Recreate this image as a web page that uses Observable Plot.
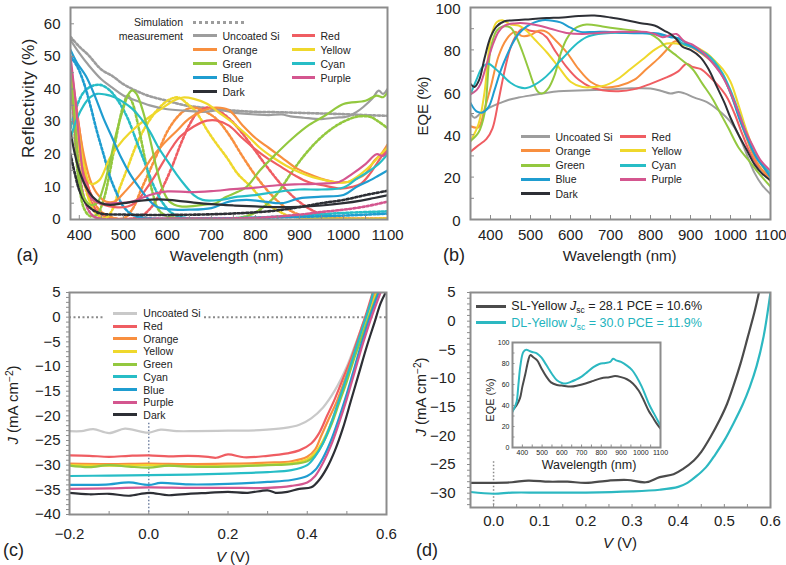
<!DOCTYPE html>
<html><head><meta charset="utf-8">
<script src="https://cdn.jsdelivr.net/npm/d3@7"></script>
<script src="https://cdn.jsdelivr.net/npm/@observablehq/plot@0.6"></script>
<style>
body{margin:0;background:#fff;}
#fig{position:relative;width:786px;height:565px;overflow:hidden;font-family:"Liberation Sans",Arial,Helvetica,sans-serif;color:#222;background:#fff;}
.t{position:absolute;white-space:nowrap;line-height:1;}
svg{overflow:visible;}
</style></head><body><div id="fig"></div>
<script>
// ---------- DATA ----------
const seriesNames = ["Uncoated Si","Red","Orange","Yellow","Green","Cyan","Blue","Purple","Dark"];

// (a) reflectivity, measured (solid)
const reflMeasured = [
 ["Uncoated Si",[[380,55],[400,51],[420,47.5],[450,43],[475,40.4],[500,38],[530,36.4],[560,35],[600,33.8],[640,33.4],[680,33],[720,33.5],[760,32.6],[800,32.2],[830,32],[860,32.2],[880,31.6],[910,31.2],[950,30.8],[980,31.2],[1010,31.6],[1030,33],[1045,34.5],[1065,37],[1080,39.5],[1090,38.5],[1100,40]]],
 ["Red",[[380,48],[390,38],[400,28],[410,18],[420,10],[435,6],[455,4.5],[480,3.8],[510,4],[530,5.5],[550,9],[570,13],[590,17.5],[610,22],[630,25.5],[660,28.5],[690,30.3],[710,30.4],[740,28.8],[770,25],[800,21.5],[830,18.5],[860,16],[890,13.5],[920,11.5],[960,10.3],[990,9.5],[1020,10],[1040,11],[1060,14],[1075,17],[1090,20],[1100,21.5]]],
 ["Orange",[[380,45],[395,32],[410,20],[425,12],[440,8],[460,5.5],[480,5.5],[500,8],[520,11],[545,15],[565,19],[590,23],[620,27],[650,31],[680,33.3],[710,34.3],[740,33.5],[770,29],[800,25],[830,22],[860,19],[890,16],[920,14],[950,12.5],[980,11.5],[1010,11.5],[1030,12.5],[1050,14],[1070,18],[1085,20],[1100,23]]],
 ["Yellow",[[380,45],[395,30],[410,17],[425,11],[445,12],[470,19],[500,24.5],[530,28.5],[560,31.5],[590,34.3],[615,36.5],[635,37.4],[660,37],[690,35.5],[720,32.5],[750,29.5],[780,26],[810,22],[840,19],[870,16.5],[900,14.5],[930,13],[960,12],[990,11.3],[1010,11.5],[1040,14],[1065,17],[1085,20],[1100,22]]],
 ["Green",[[380,45],[390,30],[400,14],[410,7],[425,4.5],[440,5],[455,10],[470,18],[485,27],[500,34],[512,38.5],[520,39.6],[530,38.5],[545,33],[560,25],[575,16],[590,9],[605,5.5],[630,4],[680,4.5],[710,5],[733,6.9],[760,8.5],[780,10],[810,15],[846,20],[885,25],[922,29],[960,32],[1000,35.4],[1050,36.4],[1075,38],[1090,37.5],[1100,39]]],
 ["Cyan",[[380,25],[395,31],[410,35],[425,37.5],[440,38.5],[460,38.3],[480,37.5],[500,36],[520,34],[540,31],[560,27],[580,22],[600,18],[620,14],[640,10.5],[660,7.5],[680,6],[720,6],[760,7],[800,7.5],[850,8.5],[900,9.2],[950,9.2],[1000,9.8],[1030,12.5],[1060,15],[1080,17],[1100,20]]],
 ["Blue",[[380,52],[395,48],[415,44],[435,38],[455,31],[475,25],[495,19],[515,14],[535,10],[555,6.5],[575,4],[600,3.2],[650,3],[700,3.5],[740,5.5],[780,6],[820,5.5],[860,5],[900,6.5],[950,7],[1000,7.5],[1030,10],[1060,12],[1080,13.5],[1100,15]]],
 ["Purple",[[380,50],[390,38],[400,24],[410,13],[425,7],[445,5],[480,5],[520,5.5],[560,7.5],[600,8.6],[650,8.4],[700,8.7],[750,9.3],[800,9.8],[850,10.5],[900,10.8],[950,11],[990,11.5],[1020,14],[1050,17],[1075,20],[1090,19.5],[1100,21]]],
 ["Dark",[[380,27],[390,20],[400,15],[415,10],[430,7],[450,5],[470,4.5],[500,5],[540,5.8],[580,6.2],[620,5.8],[660,5.2],[700,4.7],[750,4.3],[800,4],[850,3.8],[900,3.9],[950,4.3],[1000,5],[1040,5.8],[1070,6.6],[1100,7.4]]]
];
// (a) reflectivity, simulation (dotted)
const reflSimulated = [
 ["Uncoated Si",[[380,56],[400,53],[420,50.5],[450,46],[475,44],[500,41.5],[530,39.4],[560,37.8],[600,36.4],[640,35],[680,34.3],[720,33.8],[760,33.3],[800,33],[850,32.9],[900,32.7],[950,32.5],[1000,32.3],[1050,32],[1100,31.8]]],
 ["Red",[[380,45],[395,30],[410,15],[425,6],[445,2],[470,0.5],[510,0.2],[540,1],[565,4],[590,10],[610,16],[630,23],[650,29],[670,33],[690,34.3],[710,33.8],[740,31],[770,26.5],[800,21],[830,15.5],[860,10.5],[890,6.5],[920,3.5],[950,1.5],[980,0.5],[1100,0.3]]],
 ["Orange",[[380,42],[395,28],[410,16],[425,8],[445,3],[470,0.8],[500,0.3],[520,3],[540,9],[560,15],[580,21],[600,27],[620,31],[640,33.5],[660,34.3],[680,33.5],[710,31],[740,26],[770,19.5],[800,13.5],[830,8.5],[860,4.5],[890,2],[920,0.8],[1100,0.3]]],
 ["Yellow",[[380,40],[395,25],[410,12],[425,5],[440,1.5],[460,0.5],[475,3],[490,9],[510,16],[530,23],[555,29.5],[580,34],[605,36.8],[625,37.4],[645,35.5],[665,33],[690,27.5],[710,23.5],[735,19],[760,14],[790,10],[820,5.5],[850,2.8],[880,1],[1100,0.3]]],
 ["Green",[[380,45],[390,25],[400,10],[412,3],[425,1],[440,1.5],[455,6],[470,15],[485,26],[498,34],[510,38],[520,36],[535,28],[550,18],[565,9],[580,3],[600,1],[650,0.3],[750,0.3],[790,1.5],[820,4],[850,8],[880,14],[910,19.5],[940,24],[970,27.5],[1000,30],[1030,31.5],[1060,31.5],[1080,30],[1100,28]]],
 ["Cyan",[[380,28],[395,35],[410,39],[430,41],[450,41.2],[470,39.5],[490,36],[510,31],[530,24],[550,17],[570,10],[590,5],[610,2],[640,0.5],[700,0.3],[800,0.6],[900,1.2],[1000,2],[1100,2.5]]],
 ["Blue",[[380,50],[395,47],[410,42],[425,35],[440,27],[455,20],[470,13],[485,8],[500,4],[520,1.5],[550,0.5],[700,0.3],[900,0.8],[1000,1.2],[1100,1.8]]],
 ["Purple",[[380,44],[390,28],[400,15],[412,6],[425,2],[440,0.5],[600,0.3],[800,0.5],[900,1.5],[950,2.3],[1000,3],[1050,4],[1100,5.5]]],
 ["Dark",[[380,20],[390,14],[400,9],[415,5],[430,3],[450,1.8],[500,1.5],[600,1.4],[700,1.6],[800,2.2],[850,2.8],[900,3.8],[950,5],[1000,6],[1050,7.5],[1100,8.8]]]
];
// (b) EQE
const eqeCurves = [
 ["Uncoated Si",[[350,50],[360,48],[375,50],[400,53],[425,55],[446,56.5],[470,57.5],[500,58.5],[530,59.4],[570,60.5],[620,60.8],[680,61.2],[740,61.8],[800,61.8],[830,60.5],[850,59.4],[870,60.2],[885,59.5],[910,57.5],[940,55.5],[970,51.5],[1000,46],[1020,40],[1040,31],[1060,22],[1080,16],[1100,12]]],
 ["Red",[[350,32],[370,35],[390,38],[405,43],[420,56],[435,70],[450,81],[465,87],[480,90],[500,89],[520,88.5],[540,86],[560,80],[590,72],[620,66],[650,62.5],[680,61],[720,60.5],[760,61.5],[800,64],[840,67],[870,70],[890,73.5],[905,72],[925,71],[950,67],[970,63],[990,58],[1010,50],[1030,40],[1050,31],[1070,25],[1100,20]]],
 ["Orange",[[350,44],[370,43.5],[385,52],[400,62],[420,77],[440,85],[460,88.5],[480,86.5],[500,87],[520,89],[540,88.5],[560,85],[590,79],[620,71],[650,65],[680,62.5],[720,63],[760,66],[790,71],[820,76],[845,81],[860,84],[880,83],[905,81],[930,78],[950,75],[975,70],[995,62],[1015,52],[1035,41],[1060,29],[1080,23],[1100,18]]],
 ["Yellow",[[350,37],[370,45],[385,60],[400,85],[415,93],[430,94],[450,92],[470,91.5],[490,89],[510,85],[540,79],[570,72],[600,65],[630,62.5],[660,62.5],[690,63.5],[720,66.5],[750,71],[780,75.5],[810,80],[840,83],[865,83],[890,82],[910,81.5],[940,78.5],[960,75],[980,71],[1000,65],[1020,54],[1040,42],[1060,32],[1080,25],[1100,20]]],
 ["Green",[[350,37],[370,41],[385,50],[400,80],[415,89],[430,91],[450,90.5],[465,86],[480,79],[495,71],[510,63],[520,60],[530,59.5],[545,62],[560,68],[575,78],[590,85],[610,90],[640,92],[680,91],[720,90],[760,89],[800,87.5],[820,85],[840,81],[860,78],[880,75],[905,71],[930,64],[955,57],[975,50],[995,43],[1020,34],[1045,28],[1070,22],[1100,15.5]]],
 ["Cyan",[[350,59],[365,66],[380,72],[395,73.5],[410,71.5],[430,68],[450,64.5],[470,62.5],[490,62],[510,63.5],[530,66],[550,69.5],[570,74],[590,78],[610,82],[640,86],[670,87.5],[700,88],[740,88],[780,88],[810,87.5],[840,86.5],[860,86],[880,83],[910,81],[940,78],[960,74.5],[980,69],[1000,61],[1020,51],[1040,40],[1060,31],[1080,26],[1100,21.5]]],
 ["Blue",[[350,55],[365,51],[380,50.5],[395,53],[410,61],[425,70],[440,77],[455,83],[470,87.5],[490,91],[510,93],[530,94],[555,93.8],[575,93],[600,90.5],[625,88.5],[660,88.5],[700,88.5],[740,88],[780,87.8],[820,87.8],[850,86],[870,85.5],[890,83],[910,81],[940,77],[960,73],[985,66],[1005,57],[1025,46],[1045,37],[1065,29],[1085,24],[1100,20]]],
 ["Purple",[[350,59],[365,61],[375,64],[390,73],[405,82],[420,88.5],[435,91.5],[460,92.5],[490,92.5],[520,91.5],[550,90],[590,88],[630,87.5],[670,88],[710,88.5],[750,88.5],[790,88.5],[810,87.5],[830,86],[850,87],[865,87.5],[885,84],[905,82.5],[930,79],[950,75],[975,69],[995,62],[1015,53],[1035,43],[1055,35],[1075,28],[1100,23]]],
 ["Dark",[[350,64],[360,62.5],[372,66],[385,76],[400,86],[415,91],[435,93.5],[460,94],[500,94.5],[540,95],[580,95.3],[620,96],[660,96.2],[700,95.3],[740,94],[780,92.5],[810,91.5],[835,89],[850,87.5],[865,85],[880,81.5],[900,80],[925,76.5],[945,71],[965,63],[985,55],[1000,48],[1020,40],[1040,33],[1060,26],[1080,21.5],[1100,18.5]]]
];
// (c) J-V curves
const jvCurves = [
 ["Uncoated Si",[[-0.2,-23.1],[-0.17,-23.1],[-0.14,-22.7],[-0.1,-23.5],[-0.06,-22.6],[-0.02,-23.2],[0,-23.4],[0.03,-22.8],[0.07,-23.1],[0.12,-23.1],[0.2,-23.0],[0.28,-22.9],[0.34,-22.5],[0.38,-21.8],[0.41,-20.5],[0.44,-18.3],[0.47,-14.8],[0.5,-10],[0.52,-5.8],[0.54,-1.5],[0.56,2.8],[0.572,5]]],
 ["Red",[[-0.2,-28],[-0.15,-28.1],[-0.1,-28.3],[-0.05,-28.1],[0,-28],[0.05,-28.2],[0.1,-28.1],[0.15,-28.3],[0.17,-28.5],[0.2,-27.8],[0.24,-28.4],[0.3,-28.1],[0.35,-27.6],[0.38,-27],[0.41,-25.6],[0.43,-23.5],[0.45,-20],[0.47,-16.5],[0.49,-12.5],[0.51,-8.5],[0.535,-2.6],[0.55,1],[0.565,5]]],
 ["Orange",[[-0.2,-29.7],[-0.1,-29.8],[0,-29.7],[0.1,-29.8],[0.2,-29.7],[0.3,-29.5],[0.36,-29.2],[0.4,-28.3],[0.42,-26.8],[0.434,-24.3],[0.455,-20.5],[0.476,-16.8],[0.5,-11.5],[0.518,-7.4],[0.54,-2.5],[0.552,0.7],[0.572,5]]],
 ["Yellow",[[-0.2,-30],[-0.1,-30.1],[0,-30],[0.1,-30.2],[0.2,-30.1],[0.3,-29.9],[0.36,-29.6],[0.4,-28.8],[0.42,-27.5],[0.44,-25],[0.46,-21.5],[0.48,-17],[0.5,-12.5],[0.52,-7.5],[0.54,-3],[0.56,1.5],[0.575,5]]],
 ["Green",[[-0.2,-30.1],[-0.15,-30.4],[-0.1,-30],[-0.05,-30.3],[0,-30.5],[0.05,-30.1],[0.1,-30.3],[0.2,-30.3],[0.3,-30],[0.36,-29.8],[0.4,-29.2],[0.42,-28],[0.44,-25.5],[0.46,-22],[0.48,-17.5],[0.5,-13],[0.52,-8],[0.54,-3.5],[0.56,1],[0.578,5]]],
 ["Cyan",[[-0.2,-32.2],[-0.1,-32.1],[0,-32],[0.1,-31.9],[0.2,-31.7],[0.3,-31.4],[0.36,-31],[0.4,-30],[0.42,-28.2],[0.44,-25.5],[0.46,-21.5],[0.48,-16.8],[0.5,-12],[0.52,-7],[0.54,-2],[0.56,3],[0.566,5]]],
 ["Blue",[[-0.2,-34],[-0.15,-34],[-0.1,-33.9],[-0.05,-33.5],[0,-34],[0.03,-33.6],[0.1,-33.9],[0.2,-33.8],[0.3,-33.4],[0.36,-33],[0.4,-32.2],[0.42,-31],[0.44,-28.5],[0.46,-25],[0.48,-20.5],[0.5,-15.5],[0.52,-10],[0.54,-4.5],[0.56,0.5],[0.58,5]]],
 ["Purple",[[-0.2,-34.8],[-0.1,-34.7],[0,-34.5],[0.1,-34.6],[0.2,-34.6],[0.3,-34.6],[0.36,-34.2],[0.4,-33.5],[0.42,-32.2],[0.44,-29.5],[0.46,-26],[0.48,-21.5],[0.5,-16.5],[0.52,-11],[0.54,-5.5],[0.56,-0.5],[0.585,5]]],
 ["Dark",[[-0.2,-35.6],[-0.15,-35.9],[-0.1,-35.8],[-0.05,-36.2],[0,-35.6],[0.05,-36.1],[0.1,-35.8],[0.15,-35.6],[0.2,-35.4],[0.25,-35.6],[0.3,-35.1],[0.32,-35.6],[0.35,-35.4],[0.38,-34.8],[0.41,-34.5],[0.43,-33],[0.45,-30.5],[0.47,-27],[0.49,-22.5],[0.51,-17],[0.53,-11.5],[0.55,-6],[0.57,-1],[0.585,2.8],[0.598,5]]]
];
const cZeroJ = [0];
const cZeroV = [{v:0, j1:-21.5, j2:-40}];
// (d) J-V single vs double layer
const jvDNames = ["SL-Yellow","DL-Yellow"];
const jvDJsc = ["28.1","30.0"];
const jvDPce = ["10.6%","11.9%"];
const jvSL = [[-0.05,-28.2],[0,-28.2],[0.04,-28.1],[0.075,-27.8],[0.12,-28],[0.16,-28],[0.2,-28.2],[0.25,-27.8],[0.29,-27.7],[0.33,-28.1],[0.36,-27.2],[0.39,-26.7],[0.41,-25.8],[0.434,-24.3],[0.45,-22.8],[0.47,-20.2],[0.49,-17.2],[0.506,-14.4],[0.52,-11.2],[0.535,-7.4],[0.55,-3],[0.565,1.5],[0.575,5]];
const jvDL = [[-0.05,-29.8],[0,-30.1],[0.04,-29.9],[0.1,-29.9],[0.2,-29.9],[0.3,-29.7],[0.36,-29.4],[0.4,-28.9],[0.42,-28.2],[0.44,-27],[0.46,-25.5],[0.48,-23.3],[0.5,-20.8],[0.52,-17.8],[0.54,-14.5],[0.555,-11.5],[0.57,-7.8],[0.585,-2.7],[0.6,5]];
const dZeroV = [{v:0, j1:-24.5, j2:-32.5}];
// (d) inset EQE
const insetDL = [[350,34],[360,38],[371,43.5],[380,60],[390,78],[405,91],[420,93],[435,92],[450,91],[475,89.5],[495,86],[510,82],[530,76],[550,70],[575,64],[600,61.5],[620,61],[645,62.5],[670,64.5],[700,67.5],[730,72],[760,76.5],[790,79.5],[820,80.5],[845,81.5],[860,84.5],[875,83],[900,81.5],[930,78],[955,74],[980,67],[1005,58],[1025,49],[1045,40],[1065,33],[1085,26],[1100,21]];
const insetSL = [[350,35.5],[370,40],[388,47],[400,58],[415,70],[430,83],[440,88],[455,86],[475,83],[495,76],[520,68],[545,62],[575,59.5],[600,59],[645,58],[680,59],[720,61],[760,63.5],[800,66],[840,67],[870,68],[900,67],[930,65],[960,61],[990,54],[1015,45],[1040,35],[1060,29],[1080,23],[1100,18]];

// tick labels
const wlTicks = [400,500,600,700,800,900,1000,1100];
const reflTicks = [0,10,20,30,40,50,60];
const eqeTicks = [0,20,40,60,80,100];
const vTicksC = [-0.2,0,0.2,0.4,0.6];
const jTicksC = [-40,-35,-30,-25,-20,-15,-10,-5,0,5];
const vTicksD = [0,0.1,0.2,0.3,0.4,0.5,0.6];
const jTicksD = [-30,-25,-20,-15,-10,-5,0,5];

// ---------- STYLE ----------
const palette = {"Uncoated Si":"#9d9d9d", Red:"#ef5d62", Orange:"#f88f3f", Yellow:"#efd82c", Green:"#93c83f", Cyan:"#27bdc6", Blue:"#1f9dd0", Purple:"#d4568f", Dark:"#2d2f35"};
const paletteC = Object.assign({}, palette, {"Uncoated Si":"#c9c9c9"});
const colD = ["#4b4b4b","#2cb8c1"];
const FONT = '"Liberation Sans", Arial, Helvetica, sans-serif';
const fig = document.getElementById("fig");

const line = (pts, stroke, extra={}) => Plot.line(pts, {x: p=>p[0], y: p=>p[1], stroke, strokeWidth:2.2, curve:"catmull-rom", clip:true, ...extra});

function panel(c){
  const tl = c.tickLen ?? 4;
  const svg = Plot.plot({
    width:c.w, height:c.h, marginTop:c.m[0], marginRight:c.m[1], marginBottom:c.m[2], marginLeft:c.m[3],
    x:{domain:c.xd, label:null}, y:{domain:c.yd, label:null},
    style:{fontFamily:FONT, fontSize:(c.font||15)+"px", color:"#222", background:"transparent", overflow:"visible"},
    marks:[
      ...c.marks,
      Plot.axisX(c.xm, {tickSize:tl, dy:-tl, tickFormat:()=>"", stroke:"#8c8c8c", label:null}),
      Plot.axisY(c.ym, {tickSize:tl, dx:c.yOut?0:tl, tickFormat:()=>"", stroke:"#8c8c8c", label:null}),
      Plot.axisX(c.xt, {tickSize:0, tickPadding:c.xpad, tickFormat:c.xf, label:null}),
      Plot.axisY(c.yt, {tickSize:0, tickPadding:c.ypad, tickFormat:c.yf, label:null, dy:c.ydy||0}),
      Plot.frame({stroke:"#8c8c8c", strokeWidth:c.fw||2})
    ]
  });
  svg.style.position="absolute"; svg.style.left=c.left+"px"; svg.style.top=c.top+"px";
  fig.appendChild(svg);
}
function put(el,x,y){el.style.left=x+"px";el.style.top=y+"px";fig.appendChild(el);return el;}
function text(html,x,y,o={}){
  const d=document.createElement("div"); d.className="t"; d.innerHTML=html;
  d.style.fontSize=(o.size||15)+"px"; d.style.color=o.color||"#222";
  if(o.ls) d.style.letterSpacing=o.ls+"px";
  const tx=o.anchor==="end"?-100:o.anchor==="middle"?-50:0;
  d.style.transform=`translate(${tx}%,-50%)`+(o.rotate?` rotate(${o.rotate}deg)`:"");
  return put(d,x,y);
}
function swatch(x1,x2,y,color,o={}){
  const d=document.createElement("div"); d.className="t";
  const w=o.w||3;
  d.style.width=(x2-x1)+"px"; d.style.height=w+"px"; d.style.marginTop=(-w/2)+"px";
  d.style.background=o.dash?`repeating-linear-gradient(90deg, ${color} 0 ${o.dash[0]}px, transparent ${o.dash[0]}px ${o.dash[0]+o.dash[1]}px)`:color;
  return put(d,x1,y);
}
const fmtInt = d3.format("d");
const fmt1 = d3.format(".1f");
const step = (a,b,s)=>d3.range(a,b+s/2,s);

// ---------- PANEL (a) ----------
panel({left:0, top:0, w:393, h:280, m:[7,6,61,70], xd:[380,1100], yd:[0,65],
  xt:wlTicks, yt:reflTicks, xm:step(400,1100,50), ym:step(0,60,5), xpad:10, ypad:10, xf:fmtInt, yf:fmtInt,
  marks:[
    ...reflSimulated.map(([n,p])=>line(p, palette[n], {strokeWidth:2.6, strokeDasharray:"2.2,2.2"})),
    ...reflMeasured.map(([n,p])=>line(p, palette[n]))
  ]});
// ---------- PANEL (b) ----------
panel({left:393, top:0, w:393, h:280, m:[7,16,61,77], xd:[350,1100], yd:[0,100],
  xt:wlTicks, yt:eqeTicks, xm:step(350,1100,50), ym:step(0,100,10), xpad:10, ypad:10, ydy:1.5, xf:fmtInt, yf:fmtInt,
  marks: eqeCurves.map(([n,p])=>line(p, palette[n], {strokeWidth:2}))});
// ---------- PANEL (c) ----------
panel({left:0, top:280, w:393, h:285, m:[12,7,51,69], xd:[-0.2,0.6], yd:[-40,5],
  xt:vTicksC, yt:jTicksC, xm:step(-0.2,0.6,0.1), ym:step(-40,5,1), yOut:true, tickLen:3, xpad:14, ypad:9, xf:fmt1, yf:fmtInt,
  marks:[
    Plot.ruleY(cZeroJ, {stroke:"#8a8a8a", strokeWidth:2, strokeDasharray:"2,2.5"}),
    Plot.ruleX(cZeroV, {x:"v", y1:"j1", y2:"j2", stroke:"#7383a3", strokeWidth:1.5, strokeDasharray:"1.5,2"}),
    ...jvCurves.map(([n,p])=>line(p, paletteC[n]))
  ]});
// ---------- PANEL (d) ----------
panel({left:393, top:280, w:393, h:285, m:[12,16,58,77], xd:[-0.05,0.6], yd:[-32.5,5],
  xt:vTicksD, yt:jTicksD, xm:step(-0.05,0.6,0.05), ym:step(-32,5,1), yOut:true, tickLen:3, xpad:8, ypad:15, xf:fmt1, yf:fmtInt,
  marks:[
    Plot.ruleX(dZeroV, {x:"v", y1:"j1", y2:"j2", stroke:"#8a8a8a", strokeWidth:1.5, strokeDasharray:"1.5,2"}),
    line(jvSL, colD[0]), line(jvDL, colD[1])
  ]});
// inset
panel({left:470, top:330, w:200, h:140, m:[12,10,23,42], xd:[350,1100], yd:[0,100], font:7,
  xt:wlTicks, yt:eqeTicks, xm:step(350,1100,50), ym:step(0,100,10), tickLen:2.5, xpad:3, ypad:3, xf:fmtInt, yf:fmtInt, fw:2,
  marks:[line(insetSL, colD[0], {strokeWidth:2}), line(insetDL, colD[1], {strokeWidth:2})]});

// ---------- LEGENDS ----------
// (a)
text("Simulation",183,22,{size:10.5,anchor:"end"});
swatch(193,247,22.5,"#9d9d9d",{dash:[3,3]});
text("measurement",183,35.5,{size:10.5,anchor:"end"});
const aLeft=["Uncoated Si","Orange","Green","Blue","Dark"], aRight=["Red","Yellow","Cyan","Purple"];
aLeft.forEach((n,i)=>{const y=35.5+i*14.1; swatch(193,217,y,palette[n]); text(n,222.5,y,{size:10.5});});
aRight.forEach((n,i)=>{const y=35.5+i*14.1; swatch(292,315,y,palette[n]); text(n,320.5,y,{size:10.5});});
// (b)
aLeft.forEach((n,i)=>{const y=136.7+i*14.2; swatch(521,550,y,palette[n]); text(n,555.5,y,{size:10.5});});
aRight.forEach((n,i)=>{const y=136.7+i*14.2; swatch(620,646,y,palette[n]); text(n,651.5,y,{size:10.5});});
// (c)
const bg=document.createElement("div"); bg.className="t"; bg.style.width="100px"; bg.style.height="114px"; bg.style.background="#fff"; put(bg,103.5,306);
seriesNames.forEach((n,i)=>{const y=313.3+i*12.7; swatch(113,137,y,paletteC[n]); text(n,143.3,y,{size:10.5});});
// (d)
jvDNames.forEach((n,i)=>{const y=306+i*16.7; swatch(476,506,y,colD[i]);
  text(`${n} <i>J</i><span style="font-size:68%;position:relative;top:0.35em">sc</span> = ${jvDJsc[i]} PCE = ${jvDPce[i]}`,511.3,y,{size:12.5,color:i?"#22b3bd":"#222"});});

// ---------- AXIS TITLES & PANEL LETTERS ----------
const sup = s=>`<span style="font-size:68%;position:relative;top:-0.5em">${s}</span>`;
text("Reflectivity (%)",28,97.5,{size:17,anchor:"middle",rotate:-90,ls:0.4});
text("Wavelength (nm)",226.7,255,{size:15,anchor:"middle"});
text("(a)",16.5,255,{size:18});
text("EQE (%)",422,106,{size:15,anchor:"middle",rotate:-90});
text("Wavelength (nm)",619.7,255,{size:15,anchor:"middle"});
text("(b)",443,255,{size:18});
text(`<i>J</i> (mA cm${sup("−2")})`,13,405,{size:15,anchor:"middle",rotate:-90});
text("<i>V</i> (V)",233,556,{size:15,anchor:"middle"});
text("(c)",3,550,{size:18});
text(`<i>J</i> (mA cm${sup("−2")})`,421,397,{size:15,anchor:"middle",rotate:-90});
text("<i>V</i> (V)",620,542,{size:15,anchor:"middle"});
text("(d)",416,550,{size:18});
text("EQE (%)",490,400,{size:11,anchor:"middle",rotate:-90});
text("Wavelength (nm)",589,465,{size:12.5,anchor:"middle"});
</script></body></html>
